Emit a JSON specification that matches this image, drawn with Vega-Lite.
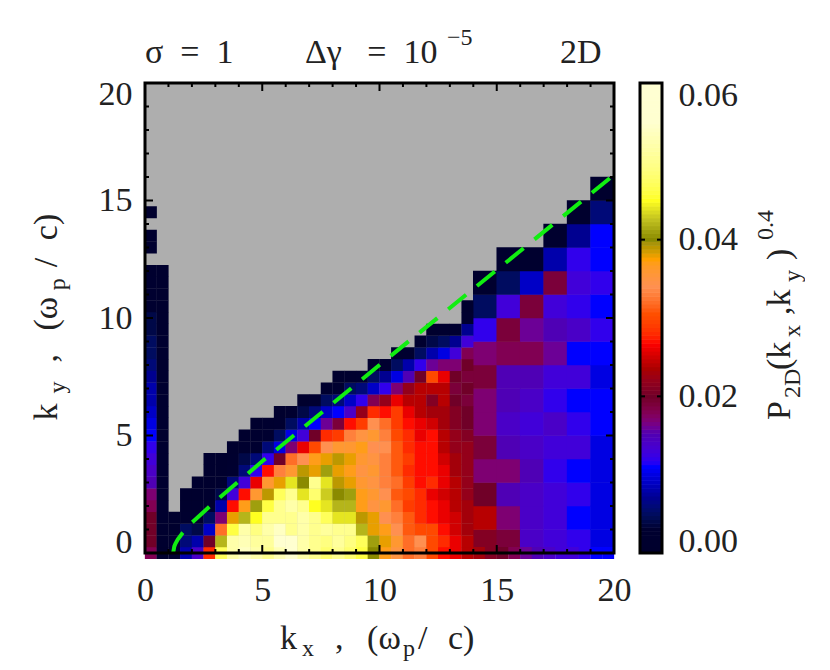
{"$schema":"https://vega.github.io/schema/vega-lite/v6.json","autosize":{"type":"pad"},"padding":{"left":30,"top":25,"right":0,"bottom":0},"background":"white","bounds":"flush","spacing":26,"config":{"view":{"stroke":null},"font":"Liberation Serif","axis":{"ticks":false,"domain":false,"grid":false,"labelFontSize":34,"labelFont":"Liberation Serif","labelColor":"#222222"}},
"datasets":{
"fine":[
{"x":0.25,"y":0,"v":0.018},{"x":0.75,"y":0,"v":0.001},{"x":1.25,"y":0,"v":0.003},{"x":1.75,"y":0,"v":0.008},{"x":2.25,"y":0,"v":0.014},{"x":2.75,"y":0,"v":0.028},{"x":3.25,"y":0,"v":0.047},{"x":3.75,"y":0,"v":0.052},{"x":4.25,"y":0,"v":0.054},{"x":4.75,"y":0,"v":0.052},{"x":5.25,"y":0,"v":0.05},{"x":5.75,"y":0,"v":0.053},{"x":6.25,"y":0,"v":0.058},{"x":6.75,"y":0,"v":0.052},{"x":7.25,"y":0,"v":0.05},{"x":7.75,"y":0,"v":0.048},{"x":8.25,"y":0,"v":0.05},{"x":8.75,"y":0,"v":0.048},{"x":9.25,"y":0,"v":0.046},{"x":9.75,"y":0,"v":0.04},{"x":10.25,"y":0,"v":0.037},{"x":10.75,"y":0,"v":0.035},{"x":11.25,"y":0,"v":0.032},{"x":11.75,"y":0,"v":0.033},{"x":12.25,"y":0,"v":0.03},{"x":12.75,"y":0,"v":0.027},{"x":13.25,"y":0,"v":0.026},{"x":13.75,"y":0,"v":0.024},{"x":14.25,"y":0,"v":0.023},{"x":14.75,"y":0,"v":0.021},{"x":15.25,"y":0,"v":0.02},{"x":15.75,"y":0,"v":0.018},{"x":16.25,"y":0,"v":0.016},{"x":16.75,"y":0,"v":0.015},{"x":17.25,"y":0,"v":0.014},{"x":17.75,"y":0,"v":0.013},{"x":18.25,"y":0,"v":0.013},{"x":18.75,"y":0,"v":0.012},{"x":19.25,"y":0,"v":0.011},{"x":19.75,"y":0,"v":0.011},
{"x":0.25,"y":0.5,"v":0.02},{"x":0.75,"y":0.5,"v":0.002},{"x":1.25,"y":0.5,"v":0.002},{"x":1.75,"y":0.5,"v":0.006},{"x":2.25,"y":0.5,"v":0.008},{"x":2.75,"y":0.5,"v":0.02},{"x":3.25,"y":0.5,"v":0.042},{"x":3.75,"y":0.5,"v":0.052},{"x":4.25,"y":0.5,"v":0.053},{"x":4.75,"y":0.5,"v":0.051},{"x":5.25,"y":0.5,"v":0.051},{"x":5.75,"y":0.5,"v":0.055},{"x":6.25,"y":0.5,"v":0.055},{"x":6.75,"y":0.5,"v":0.052},{"x":7.25,"y":0.5,"v":0.05},{"x":7.75,"y":0.5,"v":0.049},{"x":8.25,"y":0.5,"v":0.051},{"x":8.75,"y":0.5,"v":0.049},{"x":9.25,"y":0.5,"v":0.047},{"x":9.75,"y":0.5,"v":0.041},{"x":10.25,"y":0.5,"v":0.038},{"x":10.75,"y":0.5,"v":0.036},{"x":11.25,"y":0.5,"v":0.032},{"x":11.75,"y":0.5,"v":0.034},{"x":12.25,"y":0.5,"v":0.03},{"x":12.75,"y":0.5,"v":0.028},{"x":13.25,"y":0.5,"v":0.026},{"x":13.75,"y":0.5,"v":0.024},
{"x":0.25,"y":1,"v":0.02},{"x":0.75,"y":1,"v":0.002},{"x":1.25,"y":1,"v":0.001},{"x":1.75,"y":1,"v":0.005},{"x":2.25,"y":1,"v":0.004},{"x":2.75,"y":1,"v":0.009},{"x":3.25,"y":1,"v":0.032},{"x":3.75,"y":1,"v":0.046},{"x":4.25,"y":1,"v":0.052},{"x":4.75,"y":1,"v":0.049},{"x":5.25,"y":1,"v":0.052},{"x":5.75,"y":1,"v":0.054},{"x":6.25,"y":1,"v":0.05},{"x":6.75,"y":1,"v":0.052},{"x":7.25,"y":1,"v":0.05},{"x":7.75,"y":1,"v":0.051},{"x":8.25,"y":1,"v":0.05},{"x":8.75,"y":1,"v":0.05},{"x":9.25,"y":1,"v":0.042},{"x":9.75,"y":1,"v":0.038},{"x":10.25,"y":1,"v":0.037},{"x":10.75,"y":1,"v":0.034},{"x":11.25,"y":1,"v":0.031},{"x":11.75,"y":1,"v":0.03},{"x":12.25,"y":1,"v":0.03},{"x":12.75,"y":1,"v":0.027},{"x":13.25,"y":1,"v":0.025},{"x":13.75,"y":1,"v":0.023},
{"x":0.25,"y":1.5,"v":0.02},{"x":0.75,"y":1.5,"v":0.002},{"x":1.25,"y":1.5,"v":0.001},{"x":1.75,"y":1.5,"v":0.002},{"x":2.25,"y":1.5,"v":0.002},{"x":2.75,"y":1.5,"v":0.005},{"x":3.25,"y":1.5,"v":0.017},{"x":3.75,"y":1.5,"v":0.038},{"x":4.25,"y":1.5,"v":0.042},{"x":4.75,"y":1.5,"v":0.045},{"x":5.25,"y":1.5,"v":0.05},{"x":5.75,"y":1.5,"v":0.05},{"x":6.25,"y":1.5,"v":0.05},{"x":6.75,"y":1.5,"v":0.052},{"x":7.25,"y":1.5,"v":0.05},{"x":7.75,"y":1.5,"v":0.047},{"x":8.25,"y":1.5,"v":0.044},{"x":8.75,"y":1.5,"v":0.044},{"x":9.25,"y":1.5,"v":0.039},{"x":9.75,"y":1.5,"v":0.038},{"x":10.25,"y":1.5,"v":0.034},{"x":10.75,"y":1.5,"v":0.033},{"x":11.25,"y":1.5,"v":0.031},{"x":11.75,"y":1.5,"v":0.028},{"x":12.25,"y":1.5,"v":0.027},{"x":12.75,"y":1.5,"v":0.026},{"x":13.25,"y":1.5,"v":0.025},{"x":13.75,"y":1.5,"v":0.023},
{"x":0.25,"y":2,"v":0.018},{"x":0.75,"y":2,"v":0.002},{"x":1.75,"y":2,"v":0.001},{"x":2.25,"y":2,"v":0.001},{"x":2.75,"y":2,"v":0.003},{"x":3.25,"y":2,"v":0.008},{"x":3.75,"y":2,"v":0.027},{"x":4.25,"y":2,"v":0.037},{"x":4.75,"y":2,"v":0.041},{"x":5.25,"y":2,"v":0.046},{"x":5.75,"y":2,"v":0.05},{"x":6.25,"y":2,"v":0.052},{"x":6.75,"y":2,"v":0.05},{"x":7.25,"y":2,"v":0.045},{"x":7.75,"y":2,"v":0.044},{"x":8.25,"y":2,"v":0.042},{"x":8.75,"y":2,"v":0.042},{"x":9.25,"y":2,"v":0.037},{"x":9.75,"y":2,"v":0.035},{"x":10.25,"y":2,"v":0.036},{"x":10.75,"y":2,"v":0.032},{"x":11.25,"y":2,"v":0.029},{"x":11.75,"y":2,"v":0.028},{"x":12.25,"y":2,"v":0.027},{"x":12.75,"y":2,"v":0.026},{"x":13.25,"y":2,"v":0.024},{"x":13.75,"y":2,"v":0.023},
{"x":0.25,"y":2.5,"v":0.017},{"x":0.75,"y":2.5,"v":0.002},{"x":1.75,"y":2.5,"v":0.001},{"x":2.25,"y":2.5,"v":0.001},{"x":2.75,"y":2.5,"v":0.002},{"x":3.25,"y":2.5,"v":0.004},{"x":3.75,"y":2.5,"v":0.013},{"x":4.25,"y":2.5,"v":0.027},{"x":4.75,"y":2.5,"v":0.036},{"x":5.25,"y":2.5,"v":0.039},{"x":5.75,"y":2.5,"v":0.047},{"x":6.25,"y":2.5,"v":0.05},{"x":6.75,"y":2.5,"v":0.044},{"x":7.25,"y":2.5,"v":0.048},{"x":7.75,"y":2.5,"v":0.043},{"x":8.25,"y":2.5,"v":0.04},{"x":8.75,"y":2.5,"v":0.041},{"x":9.25,"y":2.5,"v":0.037},{"x":9.75,"y":2.5,"v":0.036},{"x":10.25,"y":2.5,"v":0.034},{"x":10.75,"y":2.5,"v":0.031},{"x":11.25,"y":2.5,"v":0.03},{"x":11.75,"y":2.5,"v":0.028},{"x":12.25,"y":2.5,"v":0.026},{"x":12.75,"y":2.5,"v":0.025},{"x":13.25,"y":2.5,"v":0.024},{"x":13.75,"y":2.5,"v":0.022},
{"x":0.25,"y":3,"v":0.015},{"x":0.75,"y":3,"v":0.002},{"x":2.25,"y":3,"v":0.001},{"x":2.75,"y":3,"v":0.001},{"x":3.25,"y":3,"v":0.002},{"x":3.75,"y":3,"v":0.006},{"x":4.25,"y":3,"v":0.013},{"x":4.75,"y":3,"v":0.026},{"x":5.25,"y":3,"v":0.036},{"x":5.75,"y":3,"v":0.038},{"x":6.25,"y":3,"v":0.044},{"x":6.75,"y":3,"v":0.04},{"x":7.25,"y":3,"v":0.05},{"x":7.75,"y":3,"v":0.044},{"x":8.25,"y":3,"v":0.039},{"x":8.75,"y":3,"v":0.038},{"x":9.25,"y":3,"v":0.036},{"x":9.75,"y":3,"v":0.035},{"x":10.25,"y":3,"v":0.033},{"x":10.75,"y":3,"v":0.032},{"x":11.25,"y":3,"v":0.029},{"x":11.75,"y":3,"v":0.027},{"x":12.25,"y":3,"v":0.028},{"x":12.75,"y":3,"v":0.026},{"x":13.25,"y":3,"v":0.024},{"x":13.75,"y":3,"v":0.022},
{"x":0.25,"y":3.5,"v":0.014},{"x":0.75,"y":3.5,"v":0.002},{"x":2.75,"y":3.5,"v":0.001},{"x":3.25,"y":3.5,"v":0.001},{"x":3.75,"y":3.5,"v":0.003},{"x":4.25,"y":3.5,"v":0.006},{"x":4.75,"y":3.5,"v":0.012},{"x":5.25,"y":3.5,"v":0.027},{"x":5.75,"y":3.5,"v":0.033},{"x":6.25,"y":3.5,"v":0.036},{"x":6.75,"y":3.5,"v":0.039},{"x":7.25,"y":3.5,"v":0.038},{"x":7.75,"y":3.5,"v":0.041},{"x":8.25,"y":3.5,"v":0.038},{"x":8.75,"y":3.5,"v":0.037},{"x":9.25,"y":3.5,"v":0.035},{"x":9.75,"y":3.5,"v":0.036},{"x":10.25,"y":3.5,"v":0.033},{"x":10.75,"y":3.5,"v":0.031},{"x":11.25,"y":3.5,"v":0.028},{"x":11.75,"y":3.5,"v":0.027},{"x":12.25,"y":3.5,"v":0.027},{"x":12.75,"y":3.5,"v":0.026},{"x":13.25,"y":3.5,"v":0.023},{"x":13.75,"y":3.5,"v":0.022},
{"x":0.25,"y":4,"v":0.013},{"x":0.75,"y":4,"v":0.002},{"x":2.75,"y":4,"v":0.001},{"x":3.25,"y":4,"v":0.001},{"x":3.75,"y":4,"v":0.002},{"x":4.25,"y":4,"v":0.004},{"x":4.75,"y":4,"v":0.006},{"x":5.25,"y":4,"v":0.012},{"x":5.75,"y":4,"v":0.02},{"x":6.25,"y":4,"v":0.032},{"x":6.75,"y":4,"v":0.034},{"x":7.25,"y":4,"v":0.037},{"x":7.75,"y":4,"v":0.038},{"x":8.25,"y":4,"v":0.039},{"x":8.75,"y":4,"v":0.038},{"x":9.25,"y":4,"v":0.036},{"x":9.75,"y":4,"v":0.035},{"x":10.25,"y":4,"v":0.033},{"x":10.75,"y":4,"v":0.031},{"x":11.25,"y":4,"v":0.029},{"x":11.75,"y":4,"v":0.027},{"x":12.25,"y":4,"v":0.027},{"x":12.75,"y":4,"v":0.025},{"x":13.25,"y":4,"v":0.023},{"x":13.75,"y":4,"v":0.022},
{"x":0.25,"y":4.5,"v":0.012},{"x":0.75,"y":4.5,"v":0.002},{"x":3.75,"y":4.5,"v":0.001},{"x":4.25,"y":4.5,"v":0.002},{"x":4.75,"y":4.5,"v":0.003},{"x":5.25,"y":4.5,"v":0.006},{"x":5.75,"y":4.5,"v":0.01},{"x":6.25,"y":4.5,"v":0.017},{"x":6.75,"y":4.5,"v":0.026},{"x":7.25,"y":4.5,"v":0.03},{"x":7.75,"y":4.5,"v":0.034},{"x":8.25,"y":4.5,"v":0.036},{"x":8.75,"y":4.5,"v":0.036},{"x":9.25,"y":4.5,"v":0.037},{"x":9.75,"y":4.5,"v":0.034},{"x":10.25,"y":4.5,"v":0.034},{"x":10.75,"y":4.5,"v":0.031},{"x":11.25,"y":4.5,"v":0.028},{"x":11.75,"y":4.5,"v":0.027},{"x":12.25,"y":4.5,"v":0.027},{"x":12.75,"y":4.5,"v":0.024},{"x":13.25,"y":4.5,"v":0.022},{"x":13.75,"y":4.5,"v":0.022},
{"x":0.25,"y":5,"v":0.011},{"x":0.75,"y":5,"v":0.002},{"x":4.25,"y":5,"v":0.001},{"x":4.75,"y":5,"v":0.002},{"x":5.25,"y":5,"v":0.003},{"x":5.75,"y":5,"v":0.005},{"x":6.25,"y":5,"v":0.01},{"x":6.75,"y":5,"v":0.013},{"x":7.25,"y":5,"v":0.02},{"x":7.75,"y":5,"v":0.028},{"x":8.25,"y":5,"v":0.029},{"x":8.75,"y":5,"v":0.033},{"x":9.25,"y":5,"v":0.035},{"x":9.75,"y":5,"v":0.036},{"x":10.25,"y":5,"v":0.033},{"x":10.75,"y":5,"v":0.03},{"x":11.25,"y":5,"v":0.028},{"x":11.75,"y":5,"v":0.026},{"x":12.25,"y":5,"v":0.027},{"x":12.75,"y":5,"v":0.024},{"x":13.25,"y":5,"v":0.022},{"x":13.75,"y":5,"v":0.021},
{"x":0.25,"y":5.5,"v":0.01},{"x":0.75,"y":5.5,"v":0.002},{"x":4.75,"y":5.5,"v":0.001},{"x":5.25,"y":5.5,"v":0.002},{"x":5.75,"y":5.5,"v":0.003},{"x":6.25,"y":5.5,"v":0.005},{"x":6.75,"y":5.5,"v":0.008},{"x":7.25,"y":5.5,"v":0.011},{"x":7.75,"y":5.5,"v":0.016},{"x":8.25,"y":5.5,"v":0.019},{"x":8.75,"y":5.5,"v":0.027},{"x":9.25,"y":5.5,"v":0.029},{"x":9.75,"y":5.5,"v":0.034},{"x":10.25,"y":5.5,"v":0.032},{"x":10.75,"y":5.5,"v":0.029},{"x":11.25,"y":5.5,"v":0.027},{"x":11.75,"y":5.5,"v":0.026},{"x":12.25,"y":5.5,"v":0.025},{"x":12.75,"y":5.5,"v":0.023},{"x":13.25,"y":5.5,"v":0.021},{"x":13.75,"y":5.5,"v":0.02},
{"x":0.25,"y":6,"v":0.009},{"x":0.75,"y":6,"v":0.002},{"x":5.75,"y":6,"v":0.001},{"x":6.25,"y":6,"v":0.002},{"x":6.75,"y":6,"v":0.004},{"x":7.25,"y":6,"v":0.006},{"x":7.75,"y":6,"v":0.009},{"x":8.25,"y":6,"v":0.011},{"x":8.75,"y":6,"v":0.014},{"x":9.25,"y":6,"v":0.022},{"x":9.75,"y":6,"v":0.028},{"x":10.25,"y":6,"v":0.027},{"x":10.75,"y":6,"v":0.029},{"x":11.25,"y":6,"v":0.026},{"x":11.75,"y":6,"v":0.024},{"x":12.25,"y":6,"v":0.023},{"x":12.75,"y":6,"v":0.023},{"x":13.25,"y":6,"v":0.021},{"x":13.75,"y":6,"v":0.02},
{"x":0.25,"y":6.5,"v":0.008},{"x":0.75,"y":6.5,"v":0.002},{"x":6.75,"y":6.5,"v":0.001},{"x":7.25,"y":6.5,"v":0.003},{"x":7.75,"y":6.5,"v":0.005},{"x":8.25,"y":6.5,"v":0.006},{"x":8.75,"y":6.5,"v":0.009},{"x":9.25,"y":6.5,"v":0.012},{"x":9.75,"y":6.5,"v":0.018},{"x":10.25,"y":6.5,"v":0.022},{"x":10.75,"y":6.5,"v":0.026},{"x":11.25,"y":6.5,"v":0.024},{"x":11.75,"y":6.5,"v":0.024},{"x":12.25,"y":6.5,"v":0.021},{"x":12.75,"y":6.5,"v":0.024},{"x":13.25,"y":6.5,"v":0.02},{"x":13.75,"y":6.5,"v":0.019},
{"x":0.25,"y":7,"v":0.008},{"x":0.75,"y":7,"v":0.002},{"x":7.75,"y":7,"v":0.002},{"x":8.25,"y":7,"v":0.003},{"x":8.75,"y":7,"v":0.005},{"x":9.25,"y":7,"v":0.006},{"x":9.75,"y":7,"v":0.009},{"x":10.25,"y":7,"v":0.012},{"x":10.75,"y":7,"v":0.017},{"x":11.25,"y":7,"v":0.022},{"x":11.75,"y":7,"v":0.024},{"x":12.25,"y":7,"v":0.024},{"x":12.75,"y":7,"v":0.024},{"x":13.25,"y":7,"v":0.019},{"x":13.75,"y":7,"v":0.02},
{"x":0.25,"y":7.5,"v":0.007},{"x":0.75,"y":7.5,"v":0.002},{"x":8.25,"y":7.5,"v":0.001},{"x":8.75,"y":7.5,"v":0.002},{"x":9.25,"y":7.5,"v":0.003},{"x":9.75,"y":7.5,"v":0.005},{"x":10.25,"y":7.5,"v":0.007},{"x":10.75,"y":7.5,"v":0.01},{"x":11.25,"y":7.5,"v":0.015},{"x":11.75,"y":7.5,"v":0.02},{"x":12.25,"y":7.5,"v":0.03},{"x":12.75,"y":7.5,"v":0.026},{"x":13.25,"y":7.5,"v":0.02},{"x":13.75,"y":7.5,"v":0.019},
{"x":0.25,"y":8,"v":0.006},{"x":0.75,"y":8,"v":0.002},{"x":9.75,"y":8,"v":0.002},{"x":10.25,"y":8,"v":0.003},{"x":10.75,"y":8,"v":0.005},{"x":11.25,"y":8,"v":0.008},{"x":11.75,"y":8,"v":0.012},{"x":12.25,"y":8,"v":0.016},{"x":12.75,"y":8,"v":0.017},{"x":13.25,"y":8,"v":0.017},{"x":13.75,"y":8,"v":0.02},
{"x":0.25,"y":8.5,"v":0.005},{"x":0.75,"y":8.5,"v":0.002},{"x":10.75,"y":8.5,"v":0.002},{"x":11.25,"y":8.5,"v":0.003},{"x":11.75,"y":8.5,"v":0.005},{"x":12.25,"y":8.5,"v":0.008},{"x":12.75,"y":8.5,"v":0.01},{"x":13.25,"y":8.5,"v":0.013},{"x":13.75,"y":8.5,"v":0.018},
{"x":0.25,"y":9,"v":0.005},{"x":0.75,"y":9,"v":0.002},{"x":11.75,"y":9,"v":0.002},{"x":12.25,"y":9,"v":0.004},{"x":12.75,"y":9,"v":0.005},{"x":13.25,"y":9,"v":0.007},{"x":13.75,"y":9,"v":0.013},
{"x":0.25,"y":9.5,"v":0.004},{"x":0.75,"y":9.5,"v":0.001},{"x":12.25,"y":9.5,"v":0.001},{"x":12.75,"y":9.5,"v":0.002},{"x":13.25,"y":9.5,"v":0.003},{"x":13.75,"y":9.5,"v":0.007},
{"x":0.25,"y":10,"v":0.004},{"x":0.75,"y":10,"v":0.001},{"x":13.75,"y":10,"v":0.003},
{"x":0.25,"y":10.5,"v":0.003},{"x":0.75,"y":10.5,"v":0.001},{"x":13.75,"y":10.5,"v":0.001},
{"x":0.25,"y":11,"v":0.003},{"x":0.75,"y":11,"v":0.001},
{"x":0.25,"y":11.5,"v":0.003},{"x":0.75,"y":11.5,"v":0.001},
{"x":0.25,"y":12,"v":0.002},{"x":0.75,"y":12,"v":0.001},
{"x":0.25,"y":13,"v":0.002},{"x":0.25,"y":13.5,"v":0.002},{"x":0.25,"y":14.5,"v":0.001}
],
"coarse":[
{"x":14.5,"y":0.5,"v":0.021},{"x":14.5,"y":1.5,"v":0.024},{"x":14.5,"y":2.5,"v":0.02},{"x":14.5,"y":3.5,"v":0.017},{"x":14.5,"y":4.5,"v":0.019},{"x":14.5,"y":5.5,"v":0.017},{"x":14.5,"y":6.5,"v":0.017},{"x":14.5,"y":7.5,"v":0.019},{"x":14.5,"y":8.5,"v":0.017},{"x":14.5,"y":9.5,"v":0.012},{"x":14.5,"y":10.5,"v":0.005},{"x":14.5,"y":11.5,"v":0.001},
{"x":15.5,"y":0.5,"v":0.019},{"x":15.5,"y":1.5,"v":0.017},{"x":15.5,"y":2.5,"v":0.015},{"x":15.5,"y":3.5,"v":0.017},{"x":15.5,"y":4.5,"v":0.015},{"x":15.5,"y":5.5,"v":0.014},{"x":15.5,"y":6.5,"v":0.015},{"x":15.5,"y":7.5,"v":0.015},{"x":15.5,"y":8.5,"v":0.018},{"x":15.5,"y":9.5,"v":0.019},{"x":15.5,"y":10.5,"v":0.013},{"x":15.5,"y":11.5,"v":0.005},{"x":15.5,"y":12.5,"v":0.001},
{"x":16.5,"y":0.5,"v":0.014},{"x":16.5,"y":1.5,"v":0.014},{"x":16.5,"y":2.5,"v":0.014},{"x":16.5,"y":3.5,"v":0.015},{"x":16.5,"y":4.5,"v":0.014},{"x":16.5,"y":5.5,"v":0.013},{"x":16.5,"y":6.5,"v":0.014},{"x":16.5,"y":7.5,"v":0.015},{"x":16.5,"y":8.5,"v":0.018},{"x":16.5,"y":9.5,"v":0.016},{"x":16.5,"y":10.5,"v":0.019},{"x":16.5,"y":11.5,"v":0.009},{"x":16.5,"y":12.5,"v":0.002},
{"x":17.5,"y":0.5,"v":0.013},{"x":17.5,"y":1.5,"v":0.013},{"x":17.5,"y":2.5,"v":0.013},{"x":17.5,"y":3.5,"v":0.012},{"x":17.5,"y":4.5,"v":0.013},{"x":17.5,"y":5.5,"v":0.014},{"x":17.5,"y":6.5,"v":0.012},{"x":17.5,"y":7.5,"v":0.013},{"x":17.5,"y":8.5,"v":0.016},{"x":17.5,"y":9.5,"v":0.015},{"x":17.5,"y":10.5,"v":0.013},{"x":17.5,"y":11.5,"v":0.019},{"x":17.5,"y":12.5,"v":0.008},{"x":17.5,"y":13.5,"v":0.002},
{"x":18.5,"y":0.5,"v":0.012},{"x":18.5,"y":1.5,"v":0.011},{"x":18.5,"y":2.5,"v":0.012},{"x":18.5,"y":3.5,"v":0.011},{"x":18.5,"y":4.5,"v":0.013},{"x":18.5,"y":5.5,"v":0.012},{"x":18.5,"y":6.5,"v":0.011},{"x":18.5,"y":7.5,"v":0.013},{"x":18.5,"y":8.5,"v":0.011},{"x":18.5,"y":9.5,"v":0.014},{"x":18.5,"y":10.5,"v":0.012},{"x":18.5,"y":11.5,"v":0.013},{"x":18.5,"y":12.5,"v":0.012},{"x":18.5,"y":13.5,"v":0.007},{"x":18.5,"y":14.5,"v":0.001},
{"x":19.5,"y":0.5,"v":0.01},{"x":19.5,"y":1.5,"v":0.01},{"x":19.5,"y":2.5,"v":0.01},{"x":19.5,"y":3.5,"v":0.01},{"x":19.5,"y":4.5,"v":0.01},{"x":19.5,"y":5.5,"v":0.011},{"x":19.5,"y":6.5,"v":0.011},{"x":19.5,"y":7.5,"v":0.01},{"x":19.5,"y":8.5,"v":0.011},{"x":19.5,"y":9.5,"v":0.012},{"x":19.5,"y":10.5,"v":0.011},{"x":19.5,"y":11.5,"v":0.012},{"x":19.5,"y":12.5,"v":0.011},{"x":19.5,"y":13.5,"v":0.011},{"x":19.5,"y":14.5,"v":0.006},{"x":19.5,"y":15.5,"v":0.001}
],
"curve":[{"x":1.2,"y":0},{"x":1.25,"y":0.28},{"x":1.3,"y":0.4},{"x":1.4,"y":0.58},{"x":1.6,"y":0.85},{"x":2,"y":1.29},{"x":3,"y":2.2},{"x":5,"y":3.9},{"x":10,"y":8},{"x":20,"y":16.09}],
"k":[{"k":0},{"k":1},{"k":2},{"k":3},{"k":4},{"k":5},{"k":6},{"k":7},{"k":8},{"k":9},{"k":10},{"k":11},{"k":12},{"k":13},{"k":14},{"k":15},{"k":16},{"k":17},{"k":18},{"k":19},{"k":20}],
"bar":[{"v":0.0005},{"v":0.001},{"v":0.0015},{"v":0.002},{"v":0.0025},{"v":0.003},{"v":0.0035},{"v":0.004},{"v":0.0045},{"v":0.005},{"v":0.0055},{"v":0.006},{"v":0.0065},{"v":0.007},{"v":0.0075},{"v":0.008},{"v":0.0085},{"v":0.009},{"v":0.0095},{"v":0.01},{"v":0.0105},{"v":0.011},{"v":0.0115},{"v":0.012},{"v":0.0125},{"v":0.013},{"v":0.0135},{"v":0.014},{"v":0.0145},{"v":0.015},{"v":0.0155},{"v":0.016},{"v":0.0165},{"v":0.017},{"v":0.0175},{"v":0.018},{"v":0.0185},{"v":0.019},{"v":0.0195},{"v":0.02},{"v":0.0205},{"v":0.021},{"v":0.0215},{"v":0.022},{"v":0.0225},{"v":0.023},{"v":0.0235},{"v":0.024},{"v":0.0245},{"v":0.025},{"v":0.0255},{"v":0.026},{"v":0.0265},{"v":0.027},{"v":0.0275},{"v":0.028},{"v":0.0285},{"v":0.029},{"v":0.0295},{"v":0.03},{"v":0.0305},{"v":0.031},{"v":0.0315},{"v":0.032},{"v":0.0325},{"v":0.033},{"v":0.0335},{"v":0.034},{"v":0.0345},{"v":0.035},{"v":0.0355},{"v":0.036},{"v":0.0365},{"v":0.037},{"v":0.0375},{"v":0.038},{"v":0.0385},{"v":0.039},{"v":0.0395},{"v":0.04},{"v":0.0405},{"v":0.041},{"v":0.0415},{"v":0.042},{"v":0.0425},{"v":0.043},{"v":0.0435},{"v":0.044},{"v":0.0445},{"v":0.045},{"v":0.0455},{"v":0.046},{"v":0.0465},{"v":0.047},{"v":0.0475},{"v":0.048},{"v":0.0485},{"v":0.049},{"v":0.0495},{"v":0.05},{"v":0.0505},{"v":0.051},{"v":0.0515},{"v":0.052},{"v":0.0525},{"v":0.053},{"v":0.0535},{"v":0.054},{"v":0.0545},{"v":0.055},{"v":0.0555},{"v":0.056},{"v":0.0565},{"v":0.057},{"v":0.0575},{"v":0.058},{"v":0.0585},{"v":0.059},{"v":0.0595},{"v":0.06},{"v":0}]
},
"hconcat":[
{"width":469,"height":470,"view":{"fill":"#aeaeae","stroke":null},
"layer":[
{"data":{"name":"coarse"},"mark":{"type":"rect","width":24,"height":24},"encoding":{
"x":{"field":"x","type":"quantitative","scale":{"domain":[0,20],"nice":false},"axis":{"values":[0,5,10,15,20],"title":null,"labelPadding":20,"labelAngle":0,"labelFlush":false}},
"y":{"field":"y","type":"quantitative","scale":{"domain":[0,20],"nice":false},"axis":{"values":[0,5,10,15,20],"title":null,"labelPadding":13,"labelFlush":true,"labelFlushOffset":6}},
"color":{"field":"v","type":"quantitative","legend":null,"scale":{"domain":[0,0.003,0.007,0.011,0.0153,0.02,0.0234,0.0268,0.0306,0.034,0.0375,0.0395,0.04,0.0425,0.045,0.049,0.055,0.06],"range":["#000000","#000030","#000090","#0000ff","#5000b0","#700028","#a80000","#ff0000","#ff5000","#ff9050","#ffa000","#a8940a","#8a8a00","#c0c020","#ffff20","#ffff80","#ffffd0","#ffffff"]}}}},
{"data":{"name":"fine"},"mark":{"type":"rect","width":12,"height":12},"encoding":{
"x":{"field":"x","type":"quantitative","scale":{"domain":[0,20],"nice":false},"axis":{"title":null}},
"y":{"field":"y","type":"quantitative","scale":{"domain":[0,20],"nice":false},"axis":{"title":null}},
"color":{"field":"v","type":"quantitative","legend":null}}},
{"data":{"name":"curve"},"mark":{"type":"line","color":"#11ee11","strokeWidth":4,"strokeDash":[23,14],"clip":true},"encoding":{
"x":{"field":"x","type":"quantitative","scale":{"domain":[0,20],"nice":false},"axis":{"title":null}},
"y":{"field":"y","type":"quantitative","scale":{"domain":[0,20],"nice":false},"axis":{"title":null}}}},
{"data":{"name":"k"},"mark":{"type":"tick","orient":"vertical","clip":true,"thickness":2,"color":"black","opacity":1},"encoding":{
"x":{"field":"k","type":"quantitative","scale":{"domain":[0,20],"nice":false},"axis":{"title":null}},"y":{"datum":0,"scale":{"domain":[0,20],"nice":false},"axis":{"title":null}},
"size":{"condition":{"test":"datum.k%5==0","value":16},"value":8}}},
{"data":{"name":"k"},"mark":{"type":"tick","orient":"vertical","clip":true,"thickness":2,"color":"black","opacity":1},"encoding":{
"x":{"field":"k","type":"quantitative","scale":{"domain":[0,20],"nice":false},"axis":{"title":null}},"y":{"datum":20,"scale":{"domain":[0,20],"nice":false},"axis":{"title":null}},
"size":{"condition":{"test":"datum.k%5==0","value":16},"value":8}}},
{"data":{"name":"k"},"mark":{"type":"tick","orient":"horizontal","clip":true,"thickness":2,"color":"black","opacity":1},"encoding":{
"y":{"field":"k","type":"quantitative","scale":{"domain":[0,20],"nice":false},"axis":{"title":null}},"x":{"datum":0,"scale":{"domain":[0,20],"nice":false},"axis":{"title":null}},
"size":{"condition":{"test":"datum.k%5==0","value":16},"value":8}}},
{"data":{"name":"k"},"mark":{"type":"tick","orient":"horizontal","clip":true,"thickness":2,"color":"black","opacity":1},"encoding":{
"y":{"field":"k","type":"quantitative","scale":{"domain":[0,20],"nice":false},"axis":{"title":null}},"x":{"datum":20,"scale":{"domain":[0,20],"nice":false},"axis":{"title":null}},
"size":{"condition":{"test":"datum.k%5==0","value":16},"value":8}}},
{"data":{"values":[{"a":1}]},"mark":{"type":"rect","fill":null,"fillOpacity":0,"stroke":"black","strokeWidth":3},"encoding":{
"x":{"datum":0,"scale":{"domain":[0,20],"nice":false},"axis":{"title":null}},"x2":{"datum":20},"y":{"datum":0,"scale":{"domain":[0,20],"nice":false},"axis":{"title":null}},"y2":{"datum":20}}},
{"data":{"values":[{"t":"σ\u00a0\u00a0=\u00a0\u00a01","x":0,"y":20.85},{"t":"Δγ\u00a0\u00a0\u00a0=\u00a0\u00a010","x":6.82,"y":20.85},{"t":"2D","x":17.7,"y":20.85},{"t":"k","x":5.76,"y":-4.07},{"t":",","x":8.1,"y":-4.07},{"t":"(ω","x":9.47,"y":-4.07},{"t":"/","x":11.64,"y":-4.07},{"t":"c)","x":12.92,"y":-4.07}]},"mark":{"type":"text","align":"left","baseline":"alphabetic","fontSize":34,"font":"Liberation Serif","color":"#222222"},"encoding":{
"x":{"field":"x","type":"quantitative","scale":{"domain":[0,20],"nice":false},"axis":{"title":null}},"y":{"field":"y","type":"quantitative","scale":{"domain":[0,20],"nice":false},"axis":{"title":null}},"text":{"field":"t"}}},
{"data":{"values":[{"t":"−5","x":12.88,"y":21.62},{"t":"x","x":6.7,"y":-4.37},{"t":"p","x":11,"y":-4.37}]},"mark":{"type":"text","align":"left","baseline":"alphabetic","fontSize":24,"font":"Liberation Serif","color":"#222222"},"encoding":{
"x":{"field":"x","type":"quantitative","scale":{"domain":[0,20],"nice":false},"axis":{"title":null}},"y":{"field":"y","type":"quantitative","scale":{"domain":[0,20],"nice":false},"axis":{"title":null}},"text":{"field":"t"}}},
{"data":{"values":[{"t":"k","x":-3.75,"y":5.64},{"t":",","x":-3.75,"y":8.11},{"t":"(ω","x":-3.75,"y":9.47},{"t":"/","x":-3.75,"y":12.16},{"t":"c)","x":-3.75,"y":13.31}]},"mark":{"type":"text","angle":270,"align":"left","baseline":"alphabetic","fontSize":34,"font":"Liberation Serif","color":"#222222"},"encoding":{
"x":{"field":"x","type":"quantitative","scale":{"domain":[0,20],"nice":false},"axis":{"title":null}},"y":{"field":"y","type":"quantitative","scale":{"domain":[0,20],"nice":false},"axis":{"title":null}},"text":{"field":"t"}}},
{"data":{"values":[{"t":"y","x":-3.41,"y":6.79},{"t":"p","x":-3.41,"y":11.18}]},"mark":{"type":"text","angle":270,"align":"left","baseline":"alphabetic","fontSize":24,"font":"Liberation Serif","color":"#222222"},"encoding":{
"x":{"field":"x","type":"quantitative","scale":{"domain":[0,20],"nice":false},"axis":{"title":null}},"y":{"field":"y","type":"quantitative","scale":{"domain":[0,20],"nice":false},"axis":{"title":null}},"text":{"field":"t"}}}
],"resolve":{"scale":{"size":"independent"}}},
{"width":22,"height":470,"layer":[
{"data":{"name":"bar"},"mark":{"type":"rect","width":22,"height":4.5,"clip":true},"encoding":{
"x":{"datum":0.5,"scale":{"domain":[0,1],"nice":false},"axis":null},
"y":{"field":"v","type":"quantitative","scale":{"domain":[0,0.06],"nice":false},"axis":{"orient":"right","values":[0,0.02,0.04,0.06],"format":".2f","title":null,"labelPadding":16,"labelFlush":true,"labelFlushOffset":5}},
"color":{"field":"v","type":"quantitative","legend":null,"scale":{"domain":[0,0.003,0.007,0.011,0.0153,0.02,0.0234,0.0268,0.0306,0.034,0.0375,0.0395,0.04,0.0425,0.045,0.049,0.055,0.06],"range":["#000000","#000030","#000090","#0000ff","#5000b0","#700028","#a80000","#ff0000","#ff5000","#ff9050","#ffa000","#a8940a","#8a8a00","#c0c020","#ffff20","#ffff80","#ffffd0","#ffffff"]}}}},
{"data":{"values":[{"t":0.02},{"t":0.04}]},"mark":{"type":"tick","orient":"horizontal","clip":true,"thickness":2,"size":10,"color":"black","opacity":1},"encoding":{
"y":{"field":"t","type":"quantitative","scale":{"domain":[0,0.06],"nice":false},"axis":{"title":null,"orient":"right"}},"x":{"datum":0,"scale":{"domain":[0,1],"nice":false},"axis":null}}},
{"data":{"values":[{"t":0.02},{"t":0.04}]},"mark":{"type":"tick","orient":"horizontal","clip":true,"thickness":2,"size":10,"color":"black","opacity":1},"encoding":{
"y":{"field":"t","type":"quantitative","scale":{"domain":[0,0.06],"nice":false},"axis":{"title":null,"orient":"right"}},"x":{"datum":1,"scale":{"domain":[0,1],"nice":false},"axis":null}}},
{"data":{"values":[{"a":1}]},"mark":{"type":"rect","fill":null,"fillOpacity":0,"stroke":"black","strokeWidth":3},"encoding":{
"x":{"datum":0,"scale":{"domain":[0,1],"nice":false},"axis":null},"x2":{"datum":1},"y":{"datum":0,"scale":{"domain":[0,0.06],"nice":false},"axis":{"title":null,"orient":"right"}},"y2":{"datum":0.06}}},
{"data":{"values":[{"t":"P","x":6.8,"v":0.01698},{"t":"(k","x":6.8,"v":0.02336},{"t":",k","x":6.8,"v":0.03038},{"t":")","x":6.8,"v":0.0374}]},"mark":{"type":"text","angle":270,"align":"left","baseline":"alphabetic","fontSize":34,"font":"Liberation Serif","color":"#222222"},"encoding":{
"x":{"field":"x","type":"quantitative","scale":{"domain":[0,1],"nice":false},"axis":null},"y":{"field":"v","type":"quantitative","scale":{"domain":[0,0.06],"nice":false},"axis":{"title":null,"orient":"right"}},"text":{"field":"t"}}},
{"data":{"values":[{"t":"2D","x":7.27,"v":0.01979},{"t":"x","x":7.27,"v":0.02757},{"t":"y","x":7.27,"v":0.0346},{"t":"0.4","x":6.05,"v":0.03996}]},"mark":{"type":"text","angle":270,"align":"left","baseline":"alphabetic","fontSize":24,"font":"Liberation Serif","color":"#222222"},"encoding":{
"x":{"field":"x","type":"quantitative","scale":{"domain":[0,1],"nice":false},"axis":null},"y":{"field":"v","type":"quantitative","scale":{"domain":[0,0.06],"nice":false},"axis":{"title":null,"orient":"right"}},"text":{"field":"t"}}}
]}
]}
